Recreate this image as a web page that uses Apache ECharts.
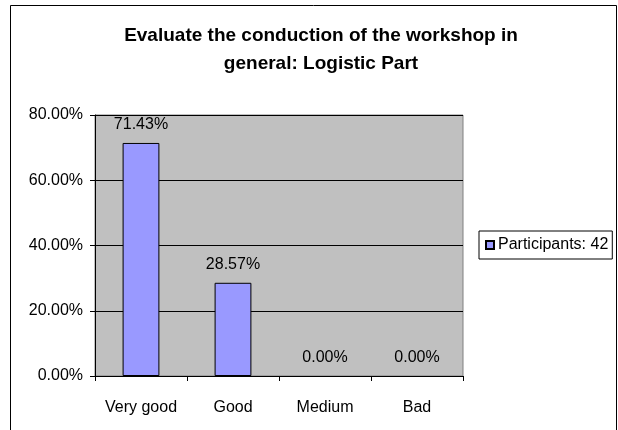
<!DOCTYPE html>
<html>
<head>
<meta charset="UTF-8">
<script src="https://cdn.jsdelivr.net/npm/echarts@6/dist/echarts.min.js"></script>
<style>
  body { margin: 0; background: #fff; }
  #chart { width: 618px; height: 430px; }
</style>
</head>
<body>
<div id="chart"></div>
<script>
// data
const categories = ['Very good', 'Good', 'Medium', 'Bad']
const shares = [0.7143, 0.2857, 0, 0]
const seriesName = 'Participants: 42'
const titleText = 'Evaluate the conduction of the workshop in\ngeneral: Logistic Part'

const FONT = '"Liberation Sans", Arial, sans-serif'
const pct = v => (v * 100).toFixed(2) + '%'

// zero bars have no visible outline in the reference
const barData = shares.map(v => ({
  value: v,
  itemStyle: v === 0 ? { borderWidth: 0, opacity: 0 } : undefined
}))

const chart = echarts.init(document.getElementById('chart'))
chart.setOption({
  animation: false,
  backgroundColor: '#fff',
  textStyle: { fontFamily: FONT },
  graphic: [{
    type: 'rect',
    shape: { x: 10.5, y: 5.5, width: 606, height: 440 },
    style: { fill: 'none', stroke: '#000', lineWidth: 1 },
    silent: true
  }],
  title: {
    text: titleText,
    left: 316,
    textAlign: 'center',
    top: 17,
    textStyle: { fontFamily: FONT, fontSize: 19, fontWeight: 'bold', color: '#000', lineHeight: 28 }
  },
  legend: {
    data: [seriesName],
    left: 479,
    top: 231,
    orient: 'vertical',
    icon: 'rect',
    itemWidth: 8,
    itemHeight: 8,
    itemGap: 5,
    padding: [6, 4, 6, 6],
    borderColor: '#000',
    borderWidth: 1,
    textStyle: { fontFamily: FONT, fontSize: 16, color: '#000', padding: [0, 0, 0, -1] }
  },
  grid: {
    left: 95,
    right: 155,
    top: 115,
    bottom: 54,
    show: true,
    backgroundColor: '#c0c0c0',
    borderColor: '#808080',
    borderWidth: 1
  },
  xAxis: {
    type: 'category',
    data: categories,
    axisLine: { lineStyle: { color: '#000', width: 1 } },
    axisTick: { show: true, interval: 0, alignWithLabel: false, length: 5, lineStyle: { color: '#000' } },
    axisLabel: { interval: 0, margin: 24, fontSize: 16, color: '#000', fontFamily: FONT }
  },
  yAxis: {
    type: 'value',
    min: 0,
    max: 0.8,
    interval: 0.2,
    axisLine: { show: true, lineStyle: { color: '#000', width: 1 } },
    axisTick: { show: true, length: 5, lineStyle: { color: '#000' } },
    axisLabel: { margin: 12, fontSize: 16, color: '#000', fontFamily: FONT, formatter: pct },
    splitLine: { show: true, lineStyle: { color: '#000', width: 1 } }
  },
  series: [{
    name: seriesName,
    type: 'bar',
    data: barData,
    barWidth: '40%',
    itemStyle: { color: '#9999ff', borderColor: '#000', borderWidth: 1 },
    label: {
      show: true,
      position: 'top',
      distance: 10,
      fontSize: 16,
      color: '#000',
      opacity: 1,
      fontFamily: FONT,
      formatter: p => pct(p.value)
    }
  }]
})
</script>
</body>
</html>
